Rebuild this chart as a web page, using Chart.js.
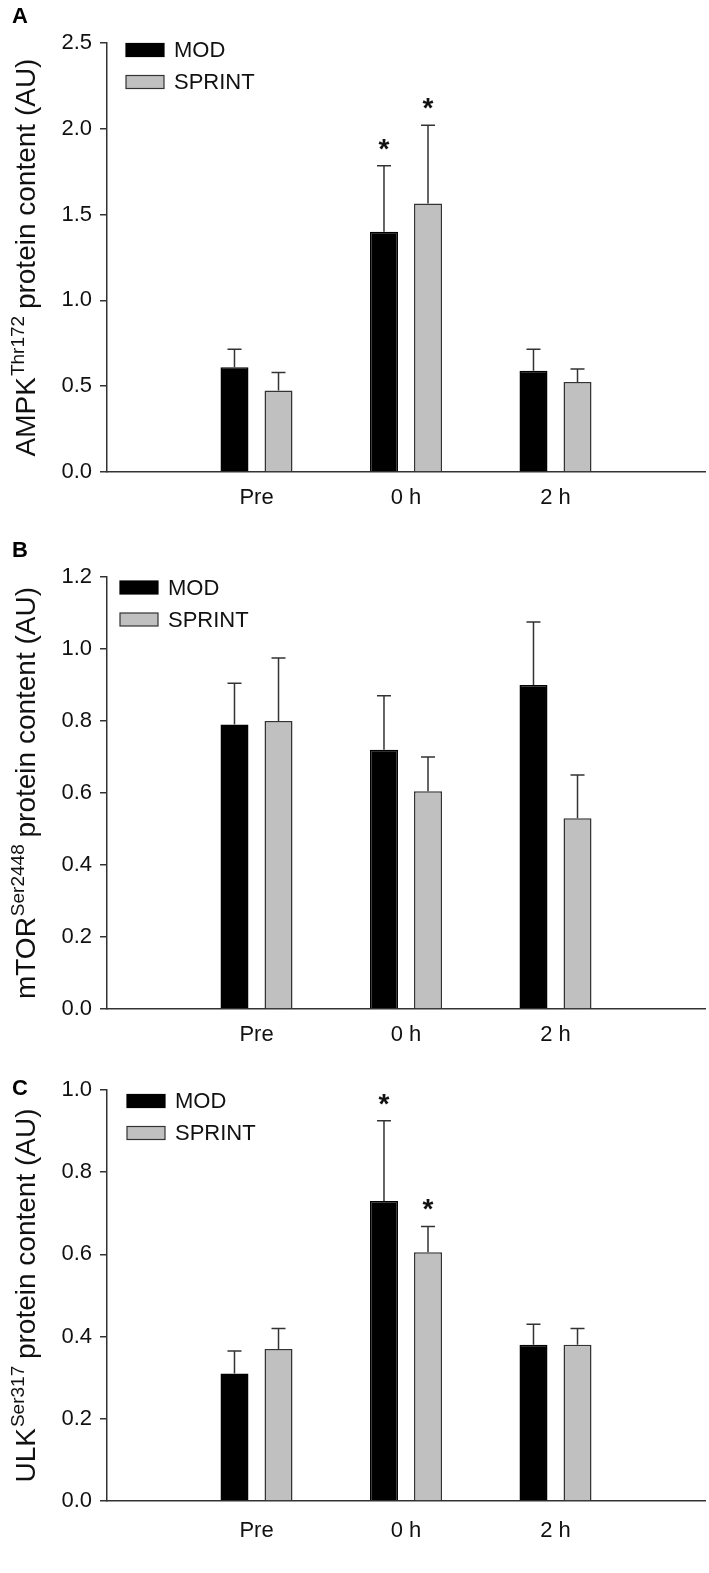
<!DOCTYPE html>
<html>
<head>
<meta charset="utf-8">
<title>AMPK / mTOR / ULK</title>
<script src="https://cdn.jsdelivr.net/npm/chart.js@4.4.1/dist/chart.umd.min.js"></script>
<style>
  html, body { margin: 0; padding: 0; background: #fff; overflow: hidden; }
  .panel { position: absolute; left: 0; width: 709px; }
  canvas { display: block; }
</style>
</head>
<body>
<div class="panel" style="top:0;height:522px"><canvas id="chartA"></canvas></div>
<div class="panel" style="top:522px;height:523px"><canvas id="chartB"></canvas></div>
<div class="panel" style="top:1045px;height:528px"><canvas id="chartC"></canvas></div>
<script>
// data
var categories = ['Pre', '0 h', '2 h'];
var groupNames = ['MOD', 'SPRINT'];

// A - AMPK Thr172
var ampkMod = [0.61, 1.40, 0.59];
var ampkModSem = [0.105, 0.385, 0.125];
var ampkSprint = [0.475, 1.565, 0.525];
var ampkSprintSem = [0.105, 0.455, 0.075];
var ampkModSig = [false, true, false];
var ampkSprintSig = [false, true, false];
var ampkTicks = [0, 0.5, 1.0, 1.5, 2.0, 2.5];

// B - mTOR Ser2448
var mtorMod = [0.79, 0.72, 0.90];
var mtorModSem = [0.115, 0.15, 0.175];
var mtorSprint = [0.80, 0.605, 0.53];
var mtorSprintSem = [0.175, 0.095, 0.12];
var mtorModSig = [false, false, false];
var mtorSprintSig = [false, false, false];
var mtorTicks = [0, 0.2, 0.4, 0.6, 0.8, 1.0, 1.2];

// C - ULK Ser317
var ulkMod = [0.31, 0.73, 0.38];
var ulkModSem = [0.055, 0.195, 0.05];
var ulkSprint = [0.37, 0.605, 0.38];
var ulkSprintSem = [0.05, 0.063, 0.04];
var ulkModSig = [false, true, false];
var ulkSprintSig = [false, true, false];
var ulkTicks = [0, 0.2, 0.4, 0.6, 0.8, 1.0];

var FONT = '"Liberation Sans", Arial, sans-serif';
var AXIS = '#333';

// layout of each panel (pixels inside its canvas)
var panels = [
  { id: 'chartA', height: 522, letter: 'A', letterY: 23, areaTop: 43, areaBottom: 472, labelPad: 13,
    titleBase: 'AMPK', titleSup: 'Thr172', legendX: 126, legendY: [50, 82],
    mod: ampkMod, modSem: ampkModSem, modSig: ampkModSig,
    sprint: ampkSprint, sprintSem: ampkSprintSem, sprintSig: ampkSprintSig, ticks: ampkTicks },
  { id: 'chartB', height: 523, letter: 'B', letterY: 35, areaTop: 55, areaBottom: 487, labelPad: 13,
    titleBase: 'mTOR', titleSup: 'Ser2448', legendX: 120, legendY: [65.5, 97.5],
    mod: mtorMod, modSem: mtorModSem, modSig: mtorModSig,
    sprint: mtorSprint, sprintSem: mtorSprintSem, sprintSig: mtorSprintSig, ticks: mtorTicks },
  { id: 'chartC', height: 528, letter: 'C', letterY: 50, areaTop: 45, areaBottom: 456, labelPad: 17,
    titleBase: 'ULK', titleSup: 'Ser317', legendX: 127, legendY: [56, 88],
    mod: ulkMod, modSem: ulkModSem, modSig: ulkModSig,
    sprint: ulkSprint, sprintSem: ulkSprintSem, sprintSig: ulkSprintSig, ticks: ulkTicks }
];

// empty slots on both sides so the groups sit at 1, 2, 3 of 0..4
function pad(arr) {
  return [null].concat(arr, [null]);
}

// error bars (upper only) and asterisks
var errorBarPlugin = {
  id: 'errorBars',
  afterDatasetsDraw: function(chart) {
    var ctx = chart.ctx;
    var y = chart.scales.y;
    chart.data.datasets.forEach(function(ds, i) {
      var meta = chart.getDatasetMeta(i);
      meta.data.forEach(function(bar, j) {
        var v = ds.data[j];
        if (v == null) return;
        var top = y.getPixelForValue(v + ds.sem[j]);
        ctx.save();
        ctx.strokeStyle = AXIS;
        ctx.lineWidth = 1.5;
        ctx.beginPath();
        ctx.moveTo(bar.x, bar.y);
        ctx.lineTo(bar.x, top);
        ctx.moveTo(bar.x - 7, top);
        ctx.lineTo(bar.x + 7, top);
        ctx.stroke();
        if (ds.sig[j]) {
          ctx.fillStyle = '#111';
          ctx.font = 'bold 28px ' + FONT;
          ctx.textAlign = 'center';
          ctx.textBaseline = 'alphabetic';
          ctx.fillText('*', bar.x, top - 8);
        }
        ctx.restore();
      });
    });
  }
};

// legend, panel letter and rotated axis title
var decorPlugin = {
  id: 'decor',
  afterDraw: function(chart) {
    var p = chart.options.plugins.decor;
    var ctx = chart.ctx;
    var area = chart.chartArea;
    ctx.save();

    ctx.fillStyle = '#000';
    ctx.font = 'bold 22px ' + FONT;
    ctx.textAlign = 'left';
    ctx.textBaseline = 'alphabetic';
    ctx.fillText(p.letter, 12, p.letterY);

    chart.data.datasets.forEach(function(ds, i) {
      var cy = p.legendY[i];
      ctx.fillStyle = ds.backgroundColor;
      ctx.fillRect(p.legendX, cy - 6.5, 38, 13);
      ctx.strokeStyle = ds.borderColor;
      ctx.lineWidth = 1.2;
      ctx.strokeRect(p.legendX, cy - 6.5, 38, 13);
      ctx.fillStyle = '#111';
      ctx.font = '22px ' + FONT;
      ctx.textBaseline = 'middle';
      ctx.fillText(ds.label, p.legendX + 48, cy + 1);
    });

    var cy = (area.top + area.bottom) / 2;
    var big = '28px ' + FONT;
    var small = '19px ' + FONT;
    var rest = ' protein content (AU)';
    ctx.font = big;
    var w1 = ctx.measureText(p.titleBase).width;
    var w3 = ctx.measureText(rest).width;
    ctx.font = small;
    var w2 = ctx.measureText(p.titleSup).width;
    var total = w1 + w2 + w3;
    ctx.translate(35, cy);
    ctx.rotate(-Math.PI / 2);
    ctx.fillStyle = '#111';
    ctx.textAlign = 'left';
    ctx.textBaseline = 'alphabetic';
    var x = -total / 2;
    ctx.font = big;
    ctx.fillText(p.titleBase, x, 0);
    ctx.font = small;
    ctx.fillText(p.titleSup, x + w1 + 1, -11);
    ctx.font = big;
    ctx.fillText(rest, x + w1 + w2, 0);
    ctx.restore();
  }
};

function makeChart(p) {
  var ctx = document.getElementById(p.id).getContext('2d');
  return new Chart(ctx, {
    type: 'bar',
    data: {
      labels: [''].concat(categories, ['']),
      datasets: [{
        label: groupNames[0],
        data: pad(p.mod),
        sem: pad(p.modSem),
        sig: pad(p.modSig),
        backgroundColor: '#000',
        borderColor: '#000',
        borderWidth: 1.5
      }, {
        label: groupNames[1],
        data: pad(p.sprint),
        sem: pad(p.sprintSem),
        sig: pad(p.sprintSig),
        backgroundColor: '#c0c0c0',
        borderColor: '#333',
        borderWidth: 1.5
      }]
    },
    options: {
      responsive: true,
      maintainAspectRatio: false,
      devicePixelRatio: 1,
      animation: false,
      categoryPercentage: 0.589,
      barPercentage: 0.636,
      layout: { padding: { top: p.areaTop, right: 4, bottom: 0, left: 0 } },
      scales: {
        x: {
          offset: false,
          grid: { display: false, drawTicks: false },
          border: { display: true, color: AXIS, width: 1.5 },
          ticks: { autoSkip: false, maxRotation: 0, padding: p.labelPad, color: '#111',
                   font: { family: FONT, size: 22 } },
          afterFit: function(scale) {
            scale.height = p.height - p.areaBottom;
            // ticks.padding would otherwise be added on both ends
            scale.paddingLeft = 0;
            scale.paddingRight = 0;
          }
        },
        y: {
          min: 0,
          max: p.ticks[p.ticks.length - 1],
          grid: { drawOnChartArea: false, drawTicks: true, tickLength: 7, color: AXIS, lineWidth: 1.5 },
          border: { display: true, color: AXIS, width: 1.5 },
          ticks: { padding: 8, color: '#111', font: { family: FONT, size: 22 },
                   callback: function(v) { return Number(v).toFixed(1); } },
          afterBuildTicks: function(scale) {
            scale.ticks = p.ticks.map(function(v) { return { value: v }; });
          },
          afterFit: function(scale) { scale.width = 107; }
        }
      },
      plugins: {
        legend: { display: false },
        tooltip: { enabled: false },
        decor: p
      }
    },
    plugins: [errorBarPlugin, decorPlugin]
  });
}

panels.forEach(makeChart);
</script>
</body>
</html>
